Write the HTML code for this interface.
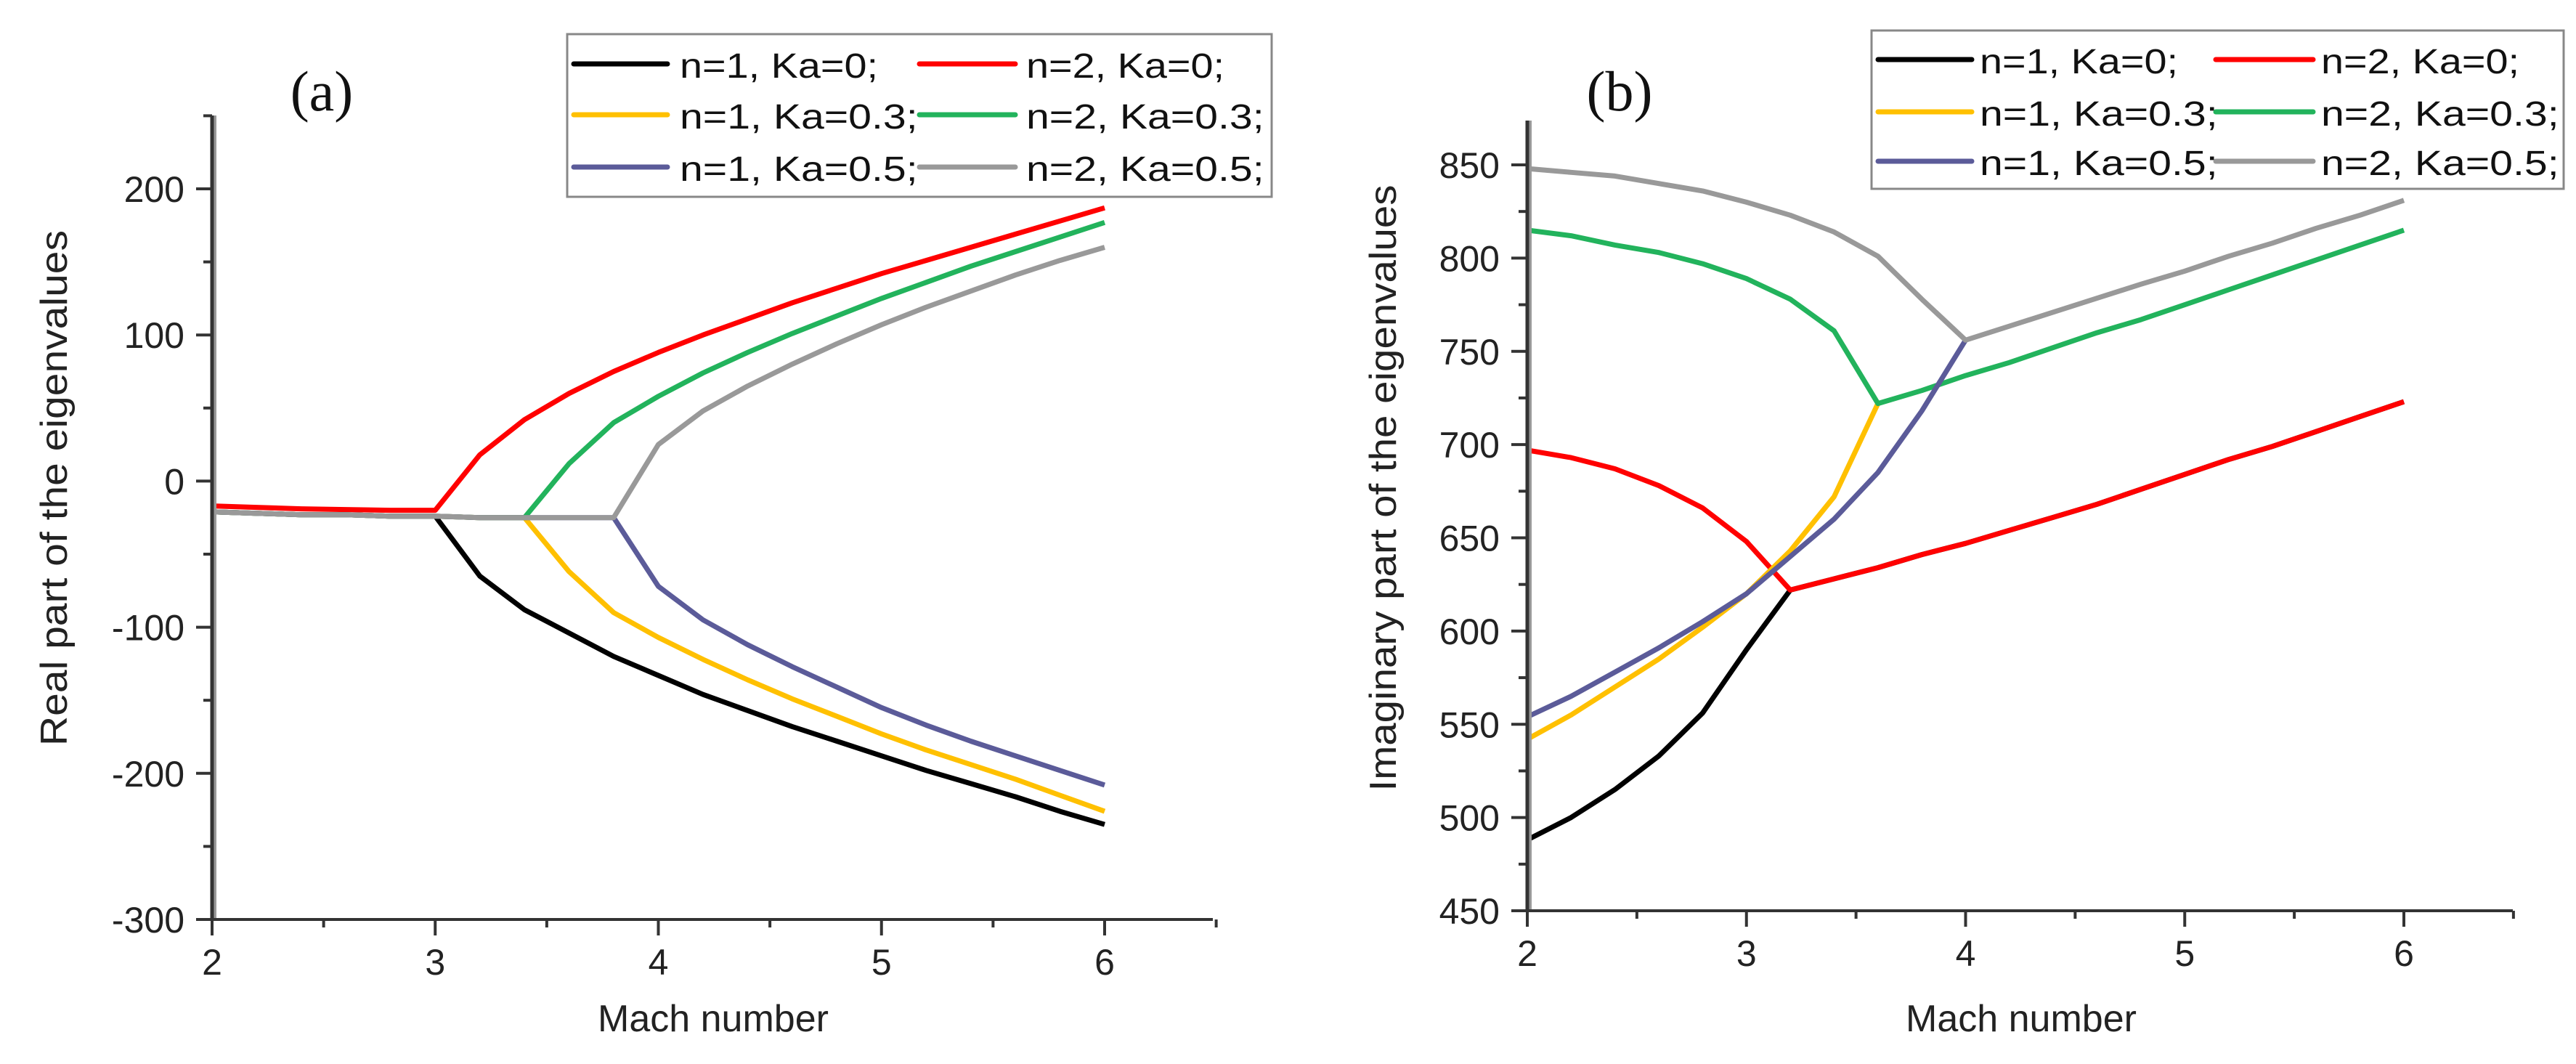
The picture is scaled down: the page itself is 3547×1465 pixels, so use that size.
<!DOCTYPE html>
<html><head><meta charset="utf-8"><style>
html,body{margin:0;padding:0;background:#fff;}
svg{display:block;font-family:"Liberation Sans",Arial,sans-serif;}
</style></head><body>
<svg id="fig" width="3547" height="1465" viewBox="0 0 3547 1465"></svg>
<script>
const machA = [2,2.2,2.4,2.6,2.8,3,3.2,3.4,3.6,3.8,4,4.2,4.4,4.6,4.8,5,5.2,5.4,5.6,5.8,6];
const aBlack  = [-21,-22,-23,-23,-24,-24,-65,-88,-104,-120,-133,-146,-157,-168,-178,-188,-198,-207,-216,-226,-235];
const aRed    = [-17,-18,-19,-19.5,-20,-20,18,42,60,75,88,100,111,122,132,142,151,160,169,178,187];
const aYellow = [-21,-22,-23,-23,-24,-24,-25,-25,-62,-90,-107,-122,-136,-149,-161,-173,-184,-194,-204,-215,-226];
const aGreen  = [-21,-22,-23,-23,-24,-24,-25,-25,12,40,58,74,88,101,113,125,136,147,157,167,177];
const aPurple = [-21,-22,-23,-23,-24,-24,-25,-25,-25,-25,-72,-95,-112,-127,-141,-155,-167,-178,-188,-198,-208];
const aGray   = [-21,-22,-23,-23,-24,-24,-25,-25,-25,-25,25,48,65,80,94,107,119,130,141,151,160];

const machB = [2,2.2,2.4,2.6,2.8,3,3.2,3.4,3.6,3.8,4,4.2,4.4,4.6,4.8,5,5.2,5.4,5.6,5.8,6];
const bBlack  = [488,500,515,533,556,590,622,628,634,641,647,654,661,668,676,684,692,699,707,715,723];
const bRed    = [697,693,687,678,666,648,622,628,634,641,647,654,661,668,676,684,692,699,707,715,723];
const bYellow = [542,555,570,585,602,620,643,672,722];
const bGreen  = [815,812,807,803,797,789,778,761,722,729,737,744,752,760,767,775,783,791,799,807,815];
const bPurple = [554,565,578,591,605,620,640,660,685,718,756];
const bGray   = [848,846,844,840,836,830,823,814,801,778,756,763.5,771,778.5,786,793,801,808,816,823,831];

const ticksXLabels = ["2","3","4","5","6"];
const ticksYA = [200,100,0,-100,-200,-300];
const ticksYB = [850,800,750,700,650,600,550,500,450];
const legendLabels = ["n=1, Ka=0;","n=2, Ka=0;","n=1, Ka=0.3;","n=2, Ka=0.3;","n=1, Ka=0.5;","n=2, Ka=0.5;"];
const colors = ["#000000","#ff0000","#ffc000","#22b35c","#5b5b99","#999999"];

const NS="http://www.w3.org/2000/svg";
const svg=document.getElementById('fig');
function mk(tag,attrs,parent){const e=document.createElementNS(NS,tag);for(const k in attrs)e.setAttribute(k,attrs[k]);(parent||svg).appendChild(e);return e;}

function panel(cfg){
  const g=mk('g',{});
  
  
  const X=v=>cfg.x0+(v-2)*(cfg.x6-cfg.x0)/4;
  const Y=v=>cfg.yTopPx+(cfg.yTopVal-v)*(cfg.yBotPx-cfg.yTopPx)/(cfg.yTopVal-cfg.yBotVal);
  cfg.series.forEach((s,i)=>{
    const pts=s.vals.map((v,j)=>X(s.xs[j]).toFixed(1)+','+Y(v).toFixed(1)).join(' ');
    const p=mk('polyline',{points:pts,fill:'none',stroke:s.color,'stroke-width':7,'stroke-linejoin':'round'},g);
    
    
  });
  const ax=mk('g',{},g);
  
  
  mk('line',{x1:cfg.x0+4,y1:cfg.axisTop,x2:cfg.x0+4,y2:cfg.yBotPx,stroke:'#999','stroke-width':4},ax);
  mk('line',{x1:cfg.x0,y1:cfg.axisTop,x2:cfg.x0,y2:cfg.yBotPx+2,stroke:'#333','stroke-width':5},ax);
  mk('line',{x1:cfg.x0,y1:cfg.yBotPx,x2:cfg.xEnd,y2:cfg.yBotPx,stroke:'#333','stroke-width':4},ax);
  for(let v=2;v<=6.5001;v+=0.5){
    const major=Math.abs(v-Math.round(v))<1e-6;
    mk('line',{x1:X(v),y1:cfg.yBotPx,x2:X(v),y2:cfg.yBotPx+(major?22:11),stroke:'#333','stroke-width':4},ax);
  }
  ticksXLabels.forEach(t=>{
    const tx=mk('text',{x:X(+t),y:cfg.yBotPx+76,'font-size':50,'text-anchor':'middle',fill:'#222'},ax);
    tx.textContent=t;
    
    
  });
  const step=cfg.minorStep;
  for(let v=cfg.yBotVal; v<=cfg.yTopVal+1e-6; v+=step){
    const major=cfg.ticksY.includes(v);
    mk('line',{x1:cfg.x0,y1:Y(v),x2:cfg.x0-(major?22:12),y2:Y(v),stroke:'#333','stroke-width':4},ax);
  }
  for(let v=cfg.yTopVal+step; Y(v)>=cfg.axisTop-1; v+=step){
    mk('line',{x1:cfg.x0,y1:Y(v),x2:cfg.x0-12,y2:Y(v),stroke:'#333','stroke-width':4},ax);
  }
  cfg.ticksY.forEach(t=>{
    const tx=mk('text',{x:cfg.x0-38,y:Y(t)+18,'font-size':50,'text-anchor':'end',fill:'#222'},ax);
    tx.textContent=String(t);
    
    
  });
  const xt=mk('text',{x:cfg.xTitleX,y:1420,'font-size':52,'text-anchor':'middle',fill:'#222'},g);
  xt.textContent='Mach number';
  
  
  const yt=mk('text',{x:0,y:0,'font-size':52,'text-anchor':'middle',fill:'#222',textLength:cfg.yTitleLen,lengthAdjust:'spacingAndGlyphs',transform:`translate(${cfg.yTitleX},672) rotate(-90)`},g);
  yt.textContent=cfg.yTitle;
  
  
  const pl=mk('text',{x:cfg.labelX,y:152,'font-size':78,'text-anchor':'middle',fill:'#111','font-family':'Liberation Serif, serif'},g);
  pl.textContent=cfg.label;
  
  
  const L=cfg.legend;
  const lg=mk('g',{},g);
  
  
  mk('rect',{x:L.x,y:L.y,width:L.w,height:L.h,fill:'#fff',stroke:'#888','stroke-width':3},lg);
  legendLabels.forEach((lab,i)=>{
    const col=i%2,row=Math.floor(i/2);
    const ry=L.rows[row];
    const e=mk('g',{},lg);
    
    
    mk('line',{x1:L.lx[col][0],y1:ry,x2:L.lx[col][1],y2:ry,stroke:colors[i],'stroke-width':7,'stroke-linecap':'round'},e);
    const t=mk('text',{x:L.tx[col],y:ry+19,'font-size':48,fill:'#111',textLength:lab.length*27.3,lengthAdjust:'spacingAndGlyphs'},e);
    t.textContent=lab;
  });
}

const ids=['n1-ka0','n2-ka0','n1-ka03','n2-ka03','n1-ka05','n2-ka05'];
const aSeries=[aBlack,aRed,aYellow,aGreen,aPurple,aGray].map((v,i)=>({id:'line-a-'+ids[i],vals:v,xs:machA,color:colors[i]}));
const bSeries=[bBlack,bRed,bYellow,bGreen,bPurple,bGray].map((v,i)=>({id:'line-b-'+ids[i],vals:v,xs:machB,color:colors[i]}));

panel({name:'panel-a-real-part',x0:292,x6:1521,xEnd:1670,axisTop:159,yTopVal:200,yBotVal:-300,yTopPx:260,yBotPx:1266,
  ticksY:ticksYA,minorStep:50,series:aSeries,xTitleX:982,yTitle:'Real part of the eigenvalues',yTitleX:92,yTitleLen:710,
  label:'(a)',labelX:443,
  legend:{x:781,y:47,w:970,h:224,rows:[88,158,230],lx:[[790,919],[1266,1398]],tx:[936,1413]}});
panel({name:'panel-b-imaginary-part',x0:2103,x6:3310,xEnd:3460,axisTop:166,yTopVal:850,yBotVal:450,yTopPx:227,yBotPx:1254,
  ticksY:ticksYB,minorStep:25,series:bSeries,xTitleX:2783,yTitle:'Imaginary part of the eigenvalues',yTitleX:1922,yTitleLen:835,
  label:'(b)',labelX:2230,
  legend:{x:2577,y:42,w:953,h:218,rows:[82,154,222],lx:[[2586,2715],[3051,3185]],tx:[2726,3196]}});
</script>
</body></html>
